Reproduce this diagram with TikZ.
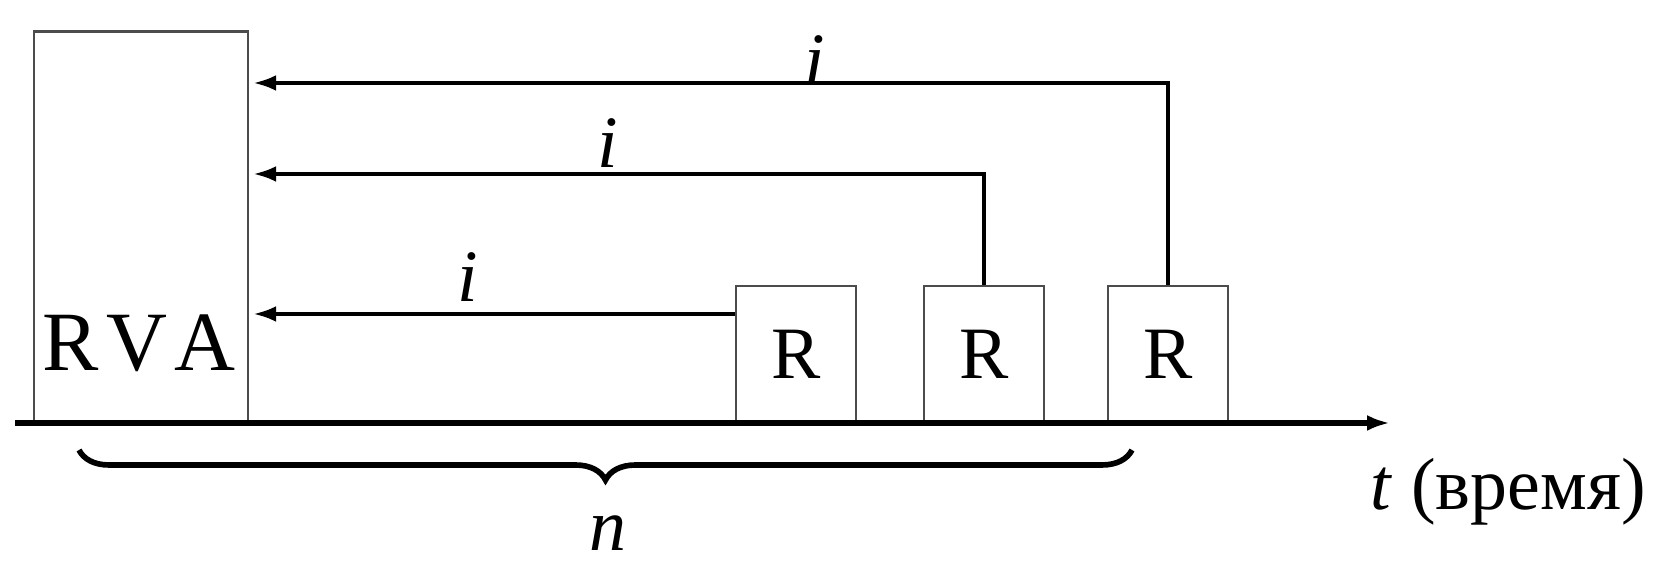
\documentclass[tikz,border=0pt]{standalone}
\usepackage{fontspec}
\setmainfont{Liberation Serif}
\usetikzlibrary{arrows.meta}
\usetikzlibrary{decorations.pathreplacing}

\begin{document}
\begin{tikzpicture}[x=0.01cm,y=-0.01cm,
    font=\fontsize{21}{25}\selectfont,
    box/.style={draw=black!70,line width=0.8pt,inner sep=0pt},
    arr/.style={line width=1.1pt,-{Latex[length=6.5pt,width=4.5pt]},shorten >=1.5pt},
    axis/.style={line width=1.5pt,-{Latex[length=6.5pt,width=4.5pt]}},
    brc/.style={line width=1.6pt,decorate,decoration={brace,mirror,amplitude=0.3cm}},
]
    \useasboundingbox (0,0) rectangle (1656,568);
    % receiver and replies
    \node[box,minimum width=2.14cm,minimum height=3.91cm] (rva) at (141,227.5) {};
    \node[font=\fontsize{24}{28}\selectfont] (rvatext) at (139,343) {R\kern2ptV\kern2ptA};
    \foreach \cx [count=\n] in {796,984,1168}
        \node[box,minimum width=1.2cm,minimum height=1.37cm] (r\n) at (\cx,354.5) {R};
    \coordinate (in1) at (248,314);
    \coordinate (in2) at (248,174);
    \coordinate (in3) at (248,83);
    \draw[arr] (in1 -| r1.west) -- (in1);
    \draw[arr] (r2.north) |- (in2);
    \draw[arr] (r3.north) |- (in3);
    \node (i1) at (468,277) {\textit{i}};
    \node (i2) at (608,143) {\textit{i}};
    \node (i3) at (815,60) {\textit{i}};
    % time axis
    \coordinate (t0) at (15,423);
    \coordinate (t1) at (1390,423);
    \draw[axis] (t0) -- (t1);
    \node[anchor=base west,inner sep=0pt] (tlabel) at (1370,510) {\textit{t} (время)};
    \draw[brc] (79,450) -- (1132,450);
    \node[inner sep=0pt] (n) at (608,533) {\textit{n}};
\end{tikzpicture}
\end{document}
